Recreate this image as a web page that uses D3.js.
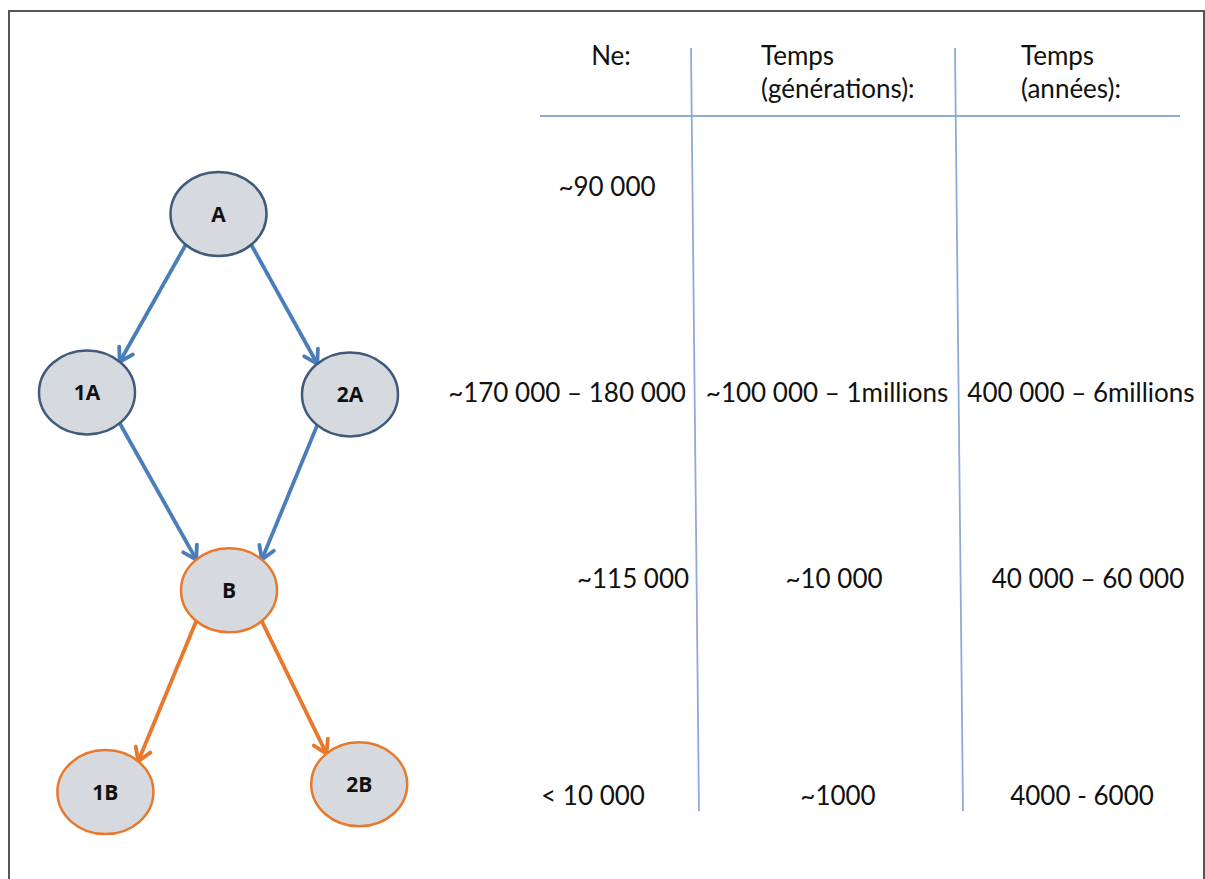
<!DOCTYPE html>
<html>
<head>
<meta charset="utf-8">
<script src="https://cdn.jsdelivr.net/npm/d3@7"></script>
<style>
  html, body { margin: 0; padding: 0; background: #fff; }
  svg { display: block; }
</style>
</head>
<body>
<div id="chart"></div>
<script>
// Tree nodes: lane = horizontal slot, depth = generation level
const nodeNames = ["A", "1A", "2A", "B", "1B", "2B"];
const nodeLane  = [0, -1, 1, 0.08, -0.86, 1.07];
const nodeDepth = [0, 0.92, 0.93, 1.94, 2.98, 2.94];
const nodeGroup = ["anc", "anc", "anc", "der", "der", "der"];

const edgeFrom = ["A", "A", "1A", "2A", "B", "B"];
const edgeTo   = ["1A", "2A", "B", "B", "1B", "2B"];

// Table
const headerNe    = ["Ne:"];
const headerGen   = ["Temps", "(générations):"];
const headerYears = ["Temps", "(années):"];
const neValues    = ["~90 000", "~170 000 – 180 000", "~115 000", "< 10 000"];
const genValues   = ["", "~100 000 – 1millions", "~10 000", "~1000"];
const yearValues  = ["", "400 000 – 6millions", "40 000 – 60 000", "4000 - 6000"];
const rowDepth    = [-0.14, 0.92, 1.88, 3.0];

const width = 1205, height = 879;

const svg = d3.select("#chart").append("svg")
    .attr("width", width)
    .attr("height", height)
    .attr("viewBox", [0, 0, width, height]);

// frame
svg.append("rect")
    .attr("x", 9).attr("y", 11)
    .attr("width", 1195).attr("height", 900)
    .attr("fill", "none")
    .attr("stroke", "#555")
    .attr("stroke-width", 2);

const x = d3.scaleLinear().domain([-1, 1]).range([87, 350]);
const y = d3.scaleLinear().domain([0, 3]).range([214, 796]);

const color = d3.scaleOrdinal().domain(["anc", "der"]).range(["#4a7ebb", "#e8782c"]);
const outline = d3.scaleOrdinal().domain(["anc", "der"]).range(["#3e5a7c", "#e8782c"]);

const rx = 48, ry = 42;

const nodes = nodeNames.map((name, i) => ({
    name,
    group: nodeGroup[i],
    cx: x(nodeLane[i]),
    cy: y(nodeDepth[i])
}));
const byName = new Map(nodes.map(d => [d.name, d]));

// point on ellipse at parametric angle (degrees)
function onEllipse(n, deg) {
    const a = deg * Math.PI / 180;
    return [n.cx + rx * Math.cos(a), n.cy + ry * Math.sin(a)];
}

const edges = edgeFrom.map((f, i) => {
    const s = byName.get(f), t = byName.get(edgeTo[i]);
    const left = t.cx < s.cx;
    return {
        group: s.group,
        p0: onEllipse(s, left ? 133 : 47),
        p1: onEllipse(t, left ? -47 : -133)
    };
});

// open arrowheads drawn as chevrons
const gEdges = svg.append("g").attr("fill", "none").attr("stroke-width", 3.8).attr("stroke-linecap", "round");

gEdges.selectAll("line")
    .data(edges)
    .join("line")
    .attr("x1", d => d.p0[0]).attr("y1", d => d.p0[1])
    .attr("x2", d => d.p1[0]).attr("y2", d => d.p1[1])
    .attr("stroke", d => color(d.group));

gEdges.selectAll("path")
    .data(edges)
    .join("path")
    .attr("stroke", d => color(d.group))
    .attr("stroke-linejoin", "miter")
    .attr("d", d => {
        const ang = Math.atan2(d.p1[1] - d.p0[1], d.p1[0] - d.p0[0]);
        const len = 15, spread = 0.55;
        const a1 = [d.p1[0] - len * Math.cos(ang - spread), d.p1[1] - len * Math.sin(ang - spread)];
        const a2 = [d.p1[0] - len * Math.cos(ang + spread), d.p1[1] - len * Math.sin(ang + spread)];
        return `M${a1}L${d.p1}L${a2}`;
    });

const gNodes = svg.append("g").selectAll("g")
    .data(nodes)
    .join("g")
    .attr("transform", d => `translate(${d.cx},${d.cy})`);

gNodes.append("ellipse")
    .attr("rx", rx).attr("ry", ry)
    .attr("fill", "#d6dade")
    .attr("stroke", d => outline(d.group))
    .attr("stroke-width", 2.5);

gNodes.append("text")
    .attr("text-anchor", "middle")
    .attr("dy", "0.36em")
    .attr("font-family", "'Open Sans', sans-serif")
    .attr("font-weight", "bold")
    .attr("font-size", 21)
    .attr("fill", "#111")
    .text(d => d.name);

// table lines
const lineColor = "#8faad8";
svg.append("line")
    .attr("x1", 540).attr("x2", 1180)
    .attr("y1", 116).attr("y2", 116)
    .attr("stroke", lineColor).attr("stroke-width", 1.8);

const colLines = [691, 955];
svg.selectAll(".vline")
    .data(colLines)
    .join("line")
    .attr("class", "vline")
    .attr("x1", d => d).attr("y1", 48)
    .attr("x2", d => d + 8).attr("y2", 811)
    .attr("stroke", lineColor).attr("stroke-width", 1.8);

const tableFont = "26px Lato, 'Open Sans', sans-serif";

// headers
const headers = [
    { lines: headerNe, x: 611, anchor: "middle" },
    { lines: headerGen, x: 761, anchor: "start" },
    { lines: headerYears, x: 1021, anchor: "start" }
];
const gHead = svg.append("g").style("font", tableFont).attr("fill", "#111");
headers.forEach(h => {
    gHead.append("text")
        .attr("text-anchor", h.anchor)
        .selectAll("tspan")
        .data(h.lines)
        .join("tspan")
        .attr("x", h.x)
        .attr("y", (d, i) => 65 + i * 33)
        .text(d => d);
});

// cells
const colCenter = d3.scaleOrdinal().domain(["ne", "gen", "yr"]).range([610, 830, 1083]);
const nudge = {
    ne: [-3, -43, 23, -17],
    gen: [0, -3, 4, 8],
    yr: [0, -2, 5, -1]
};
const cells = [];
neValues.forEach((v, i) => cells.push({ col: "ne", row: i, text: v }));
genValues.forEach((v, i) => cells.push({ col: "gen", row: i, text: v }));
yearValues.forEach((v, i) => cells.push({ col: "yr", row: i, text: v }));

svg.append("g")
    .style("font", tableFont)
    .attr("fill", "#111")
    .attr("text-anchor", "middle")
    .selectAll("text")
    .data(cells.filter(d => d.text))
    .join("text")
    .attr("x", d => colCenter(d.col) + nudge[d.col][d.row])
    .attr("y", d => y(rowDepth[d.row]))
    .attr("dy", "0.35em")
    .text(d => d.text);
</script>
</body>
</html>
